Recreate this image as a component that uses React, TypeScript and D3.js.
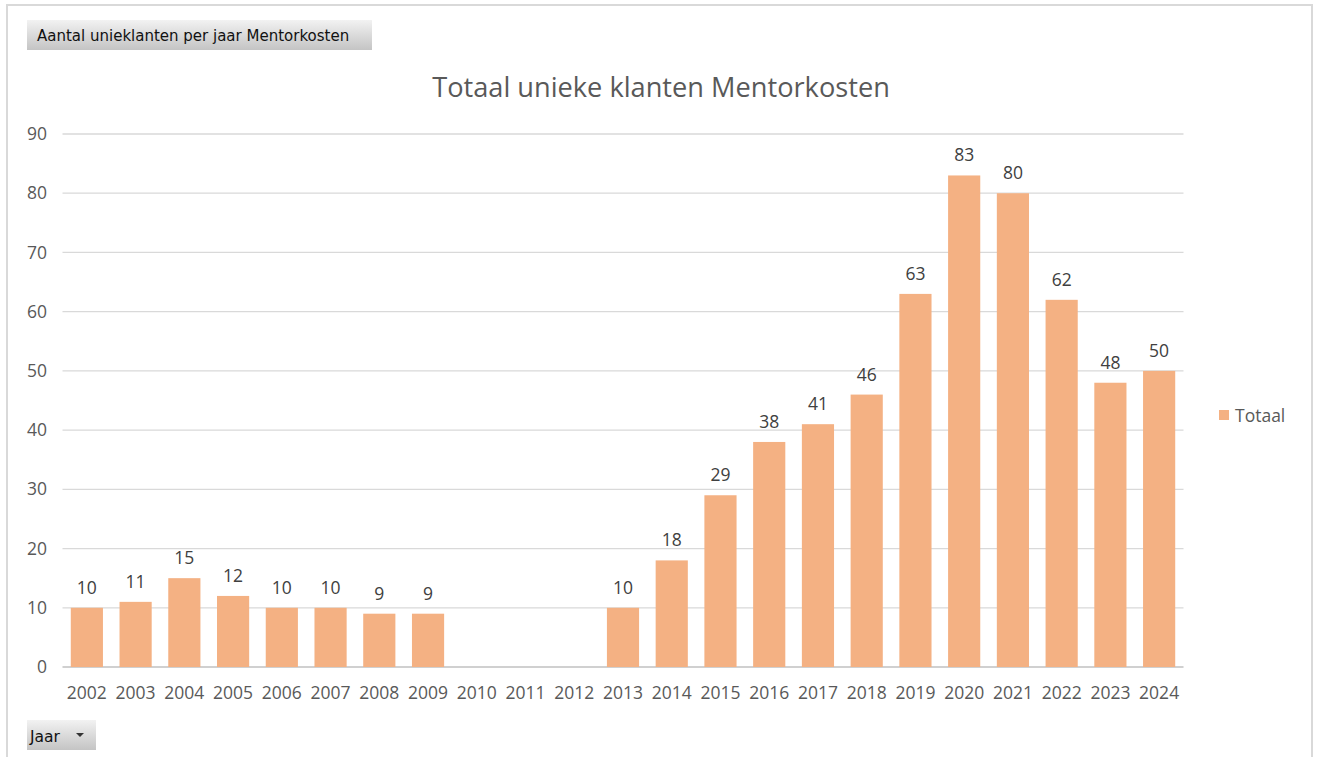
import React from 'react';
import * as d3 from 'd3';

const years = ['2002', '2003', '2004', '2005', '2006', '2007', '2008', '2009', '2010', '2011', '2012', '2013',
  '2014', '2015', '2016', '2017', '2018', '2019', '2020', '2021', '2022', '2023', '2024'];
const totaal: (number | null)[] = [10, 11, 15, 12, 10, 10, 9, 9, null, null, null, 10,
  18, 29, 38, 41, 46, 63, 83, 80, 62, 48, 50];
const yTicks = [0, 10, 20, 30, 40, 50, 60, 70, 80, 90];

const W = 1320;
const H = 757;
const font = '"Open Sans", "Noto Sans", sans-serif';

export default function App() {
  const x = d3.scaleBand().domain(years).range([62.5, 1183.5]).paddingInner(0.34).paddingOuter(0.17);
  const y = d3.scaleLinear().domain([0, 90]).range([667, 134]);

  return (
    <svg width={W} height={H} style={{ position: 'fixed', left: 0, top: 0, background: '#fff' }}>
      <defs>
        <linearGradient id="btn" x1="0" y1="0" x2="0" y2="1">
          <stop offset="0" stopColor="#f2f2f2" />
          <stop offset="1" stopColor="#c4c4c4" />
        </linearGradient>
      </defs>
      {/* chart frame */}
      <rect x={7} y={5} width={1305} height={H + 20} fill="#fff" stroke="#d9d9d9" strokeWidth={2} />

      {/* field button top */}
      <rect x={27} y={20} width={345} height={30} fill="url(#btn)" />
      <text x={37} y={41} fontFamily='Tahoma, "DejaVu Sans", sans-serif' fontSize={15} fill="#111">
        Aantal unieklanten per jaar Mentorkosten
      </text>

      {/* title */}
      <text x={661} y={97} textAnchor="middle" fontFamily={font} fontSize={27.2} fill="#595959">
        Totaal unieke klanten Mentorkosten
      </text>

      {/* grid */}
      {yTicks.map(t => (
        <g key={t}>
          <line x1={62.5} x2={1183.5} y1={y(t)} y2={y(t)} stroke={t === 0 ? '#d0d0d0' : '#d9d9d9'} strokeWidth={t === 0 ? 2 : 1.3} />
          <text x={47} y={y(t)} dy="0.35em" textAnchor="end" fontFamily={font} fontSize={17.5} fill="#595959">{t}</text>
        </g>
      ))}

      {/* bars */}
      {years.map((yr, i) => {
        const v = totaal[i];
        return (
          <g key={yr}>
            {v != null && (
              <>
                <rect x={x(yr)} y={y(v)} width={x.bandwidth()} height={y(0) - y(v)} fill="#f4b183" />
                <text x={(x(yr) as number) + x.bandwidth() / 2} y={y(v) - 14} textAnchor="middle"
                  fontFamily={font} fontSize={17.5} fill="#404040">{v}</text>
              </>
            )}
            <text x={(x(yr) as number) + x.bandwidth() / 2} y={699} textAnchor="middle"
              fontFamily={font} fontSize={17.5} fill="#595959">{yr}</text>
          </g>
        );
      })}

      {/* legend */}
      <rect x={1219} y={410} width={10} height={10} fill="#f4b183" />
      <text x={1235} y={416} dy="0.35em" fontFamily={font} fontSize={17.5} fill="#595959">Totaal</text>

      {/* field button bottom */}
      <rect x={27} y={720} width={69} height={30} fill="url(#btn)" />
      <text x={30} y={742} fontFamily='Tahoma, "DejaVu Sans", sans-serif' fontSize={15.5} fill="#111">Jaar</text>
      <path d="M76,733 L84,733 L80,737 Z" fill="#333" />
    </svg>
  );
}
